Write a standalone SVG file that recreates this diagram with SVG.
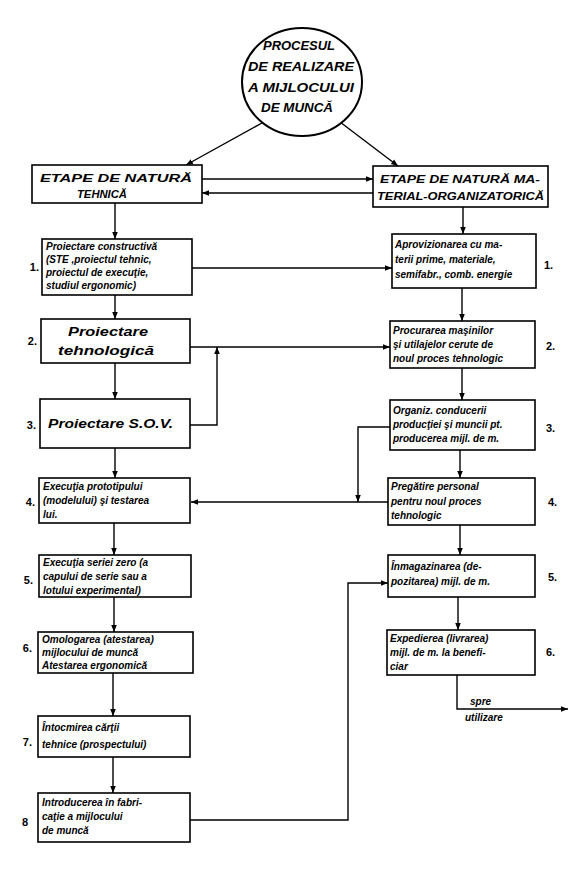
<svg xmlns="http://www.w3.org/2000/svg" width="578" height="872" viewBox="0 0 578 872">
<defs>
<style>
.box{fill:#fff;stroke:#000;stroke-width:1.6}
.ln{fill:none;stroke:#000;stroke-width:1.4}
.t{font-family:"Liberation Sans",Arial,sans-serif;font-style:italic;font-weight:bold;font-size:10px;fill:#000}
.tl{font-family:"Liberation Sans",Arial,sans-serif;font-style:italic;font-weight:bold;font-size:13px;fill:#000}
.h{font-family:"Liberation Sans",Arial,sans-serif;font-style:italic;font-weight:bold;font-size:11px;fill:#000}
.c{font-family:"Liberation Sans",Arial,sans-serif;font-style:italic;font-weight:bold;font-size:12.5px;fill:#000}
.n{font-family:"Liberation Sans",Arial,sans-serif;font-weight:bold;font-size:11px;fill:#000}
</style>
<marker id="a" viewBox="0 0 10 10" refX="10" refY="5" markerWidth="7" markerHeight="7" orient="auto" markerUnits="userSpaceOnUse">
<path d="M0,1 L10,5 L0,9 z" fill="#000"/>
</marker>
</defs>
<rect width="578" height="872" fill="#fff"/>

<g id="connectors">
<path class="ln" d="M262,123 L186,165" marker-end="url(#a)"/>
<path class="ln" d="M340,122 L398,166" marker-end="url(#a)"/>
<path class="ln" d="M202,179 L373,179" marker-end="url(#a)"/>
<path class="ln" d="M373,193 L202,193" marker-end="url(#a)"/>
<path class="ln" d="M115,203 L115,239" marker-end="url(#a)"/>
<path class="ln" d="M463,207 L463,234" marker-end="url(#a)"/>
<path class="ln" d="M192,268 L392,268" marker-end="url(#a)"/>
<path class="ln" d="M115,295 L115,319" marker-end="url(#a)"/>
<path class="ln" d="M462,288 L462,321" marker-end="url(#a)"/>
<path class="ln" d="M190,347 L390,347" marker-end="url(#a)"/>
<path class="ln" d="M115,363 L115,399" marker-end="url(#a)"/>
<path class="ln" d="M190,425 L217,425 L217,347" marker-end="url(#a)"/>
<path class="ln" d="M462,368 L462,400" marker-end="url(#a)"/>
<path class="ln" d="M390,427 L358,427 L358,502" marker-end="url(#a)"/>
<path class="ln" d="M388,502 L191,502" marker-end="url(#a)"/>
<path class="ln" d="M115,448 L115,478" marker-end="url(#a)"/>
<path class="ln" d="M460,450 L460,478" marker-end="url(#a)"/>
<path class="ln" d="M114,523 L114,555" marker-end="url(#a)"/>
<path class="ln" d="M460,525 L460,555" marker-end="url(#a)"/>
<path class="ln" d="M114,597 L114,632" marker-end="url(#a)"/>
<path class="ln" d="M458,597 L458,630" marker-end="url(#a)"/>
<path class="ln" d="M113,673 L113,716" marker-end="url(#a)"/>
<path class="ln" d="M113,757 L113,793" marker-end="url(#a)"/>
<path class="ln" d="M190,820 L348,820 L348,583 L388,583" marker-end="url(#a)"/>
<path class="ln" d="M457,675 L457,709 L568,709" marker-end="url(#a)"/>
<text class="t" x="470" y="705">spre</text>
<text class="t" x="465" y="721">utilizare</text>
</g>

<g id="start">
<ellipse cx="302" cy="82" rx="60" ry="54" fill="#fff" stroke="#000" stroke-width="2"/>
<text class="c" x="299" y="50" text-anchor="middle" textLength="72" lengthAdjust="spacingAndGlyphs">PROCESUL</text>
<text class="c" x="301" y="71" text-anchor="middle" textLength="106" lengthAdjust="spacingAndGlyphs">DE REALIZARE</text>
<text class="c" x="301" y="92" text-anchor="middle" textLength="106" lengthAdjust="spacingAndGlyphs">A MIJLOCULUI</text>
<text class="c" x="297" y="112" text-anchor="middle" textLength="72" lengthAdjust="spacingAndGlyphs">DE MUNCĂ</text>
</g>

<g id="head-left">
<rect class="box" x="32" y="165" width="170" height="38"/>
<text class="h" x="40" y="182" textLength="152" lengthAdjust="spacingAndGlyphs">ETAPE DE NATURĂ</text>
<text class="h" x="77" y="198" textLength="50" lengthAdjust="spacingAndGlyphs">TEHNICĂ</text>
</g>

<g id="head-right">
<rect class="box" x="373" y="166" width="175" height="41"/>
<text class="h" x="380" y="183" textLength="160" lengthAdjust="spacingAndGlyphs">ETAPE DE NATURĂ MA-</text>
<text class="h" x="377" y="200" textLength="167" lengthAdjust="spacingAndGlyphs">TERIAL-ORGANIZATORICĂ</text>
</g>

<g id="L1">
<rect class="box" x="42" y="239" width="150" height="56"/>
<text class="t" x="46" y="250">Proiectare constructivă</text>
<text class="t" x="46" y="263">(STE ,proiectul tehnic,</text>
<text class="t" x="46" y="276">proiectul de execuţie,</text>
<text class="t" x="46" y="289">studiul ergonomic)</text>
<text class="n" x="39" y="271" text-anchor="end">1.</text>
</g>

<g id="L2">
<rect class="box" x="41" y="319" width="149" height="44"/>
<text class="tl" x="108" y="336" text-anchor="middle" textLength="80" lengthAdjust="spacingAndGlyphs">Proiectare</text>
<text class="tl" x="106" y="355" text-anchor="middle" textLength="96" lengthAdjust="spacingAndGlyphs">tehnologică</text>
<text class="n" x="37" y="345" text-anchor="end">2.</text>
</g>

<g id="L3">
<rect class="box" x="40" y="399" width="150" height="49"/>
<text class="tl" x="48" y="428" textLength="125" lengthAdjust="spacingAndGlyphs">Proiectare S.O.V.</text>
<text class="n" x="36" y="429" text-anchor="end">3.</text>
</g>

<g id="L4">
<rect class="box" x="39" y="478" width="151" height="45"/>
<text class="t" x="43" y="490">Execuţia prototipului</text>
<text class="t" x="43" y="504">(modelului) şi testarea</text>
<text class="t" x="43" y="518">lui.</text>
<text class="n" x="35" y="506" text-anchor="end">4.</text>
</g>

<g id="L5">
<rect class="box" x="39" y="555" width="152" height="42"/>
<text class="t" x="43" y="566">Execuţia seriei zero (a</text>
<text class="t" x="43" y="580">capului de serie sau a</text>
<text class="t" x="43" y="594">lotului experimental)</text>
<text class="n" x="33" y="584" text-anchor="end">5.</text>
</g>

<g id="L6">
<rect class="box" x="38" y="632" width="155" height="41"/>
<text class="t" x="42" y="643">Omologarea (atestarea)</text>
<text class="t" x="42" y="656">mijlocului de muncă</text>
<text class="t" x="42" y="669">Atestarea ergonomică</text>
<text class="n" x="32" y="652" text-anchor="end">6.</text>
</g>

<g id="L7">
<rect class="box" x="38" y="716" width="152" height="41"/>
<text class="t" x="42" y="731">Întocmirea cărţii</text>
<text class="t" x="42" y="748">tehnice (prospectului)</text>
<text class="n" x="32" y="746" text-anchor="end">7.</text>
</g>

<g id="L8">
<rect class="box" x="38" y="793" width="152" height="49"/>
<text class="t" x="42" y="806">Introducerea în fabri-</text>
<text class="t" x="42" y="820">caţie a mijlocului</text>
<text class="t" x="42" y="834">de muncă</text>
<text class="n" x="28" y="826" text-anchor="end">8</text>
</g>

<g id="R1">
<rect class="box" x="392" y="234" width="144" height="54"/>
<text class="t" x="395" y="248">Aprovizionarea cu ma-</text>
<text class="t" x="395" y="263">terii prime, materiale,</text>
<text class="t" x="395" y="278">semifabr., comb. energie</text>
<text class="n" x="544" y="269">1.</text>
</g>

<g id="R2">
<rect class="box" x="390" y="321" width="145" height="47"/>
<text class="t" x="393" y="334">Procurarea maşinilor</text>
<text class="t" x="393" y="348">şi utilajelor cerute de</text>
<text class="t" x="393" y="362">noul proces tehnologic</text>
<text class="n" x="546" y="350">2.</text>
</g>

<g id="R3">
<rect class="box" x="390" y="400" width="145" height="50"/>
<text class="t" x="393" y="414">Organiz. conducerii</text>
<text class="t" x="393" y="428">producţiei şi muncii pt.</text>
<text class="t" x="393" y="442">producerea mijl. de m.</text>
<text class="n" x="546" y="432">3.</text>
</g>

<g id="R4">
<rect class="box" x="388" y="478" width="147" height="47"/>
<text class="t" x="391" y="490">Pregătire personal</text>
<text class="t" x="391" y="505">pentru noul proces</text>
<text class="t" x="391" y="519">tehnologic</text>
<text class="n" x="548" y="506">4.</text>
</g>

<g id="R5">
<rect class="box" x="388" y="555" width="147" height="42"/>
<text class="t" x="391" y="570">Înmagazinarea (de-</text>
<text class="t" x="391" y="585">pozitarea) mijl. de m.</text>
<text class="n" x="548" y="581">5.</text>
</g>

<g id="R6">
<rect class="box" x="387" y="630" width="148" height="45"/>
<text class="t" x="390" y="642">Expedierea (livrarea)</text>
<text class="t" x="390" y="656">mijl. de m. la benefi-</text>
<text class="t" x="390" y="670">ciar</text>
<text class="n" x="546" y="656">6.</text>
</g>
</svg>
